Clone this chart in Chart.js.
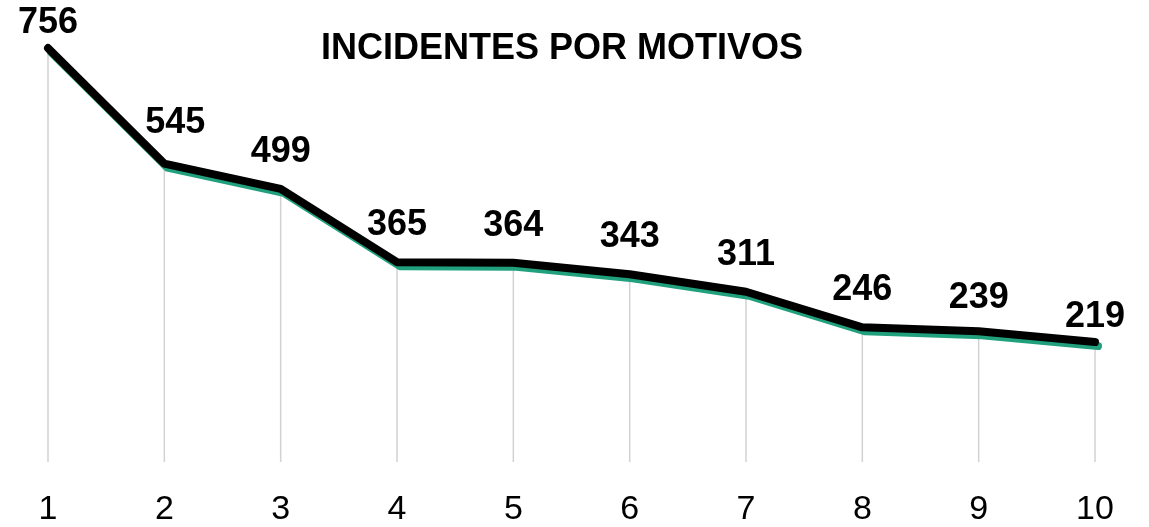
<!DOCTYPE html>
<html>
<head>
<meta charset="utf-8">
<title>Incidentes por motivos</title>
<script src="https://cdn.jsdelivr.net/npm/chart.js@4.4.1/dist/chart.umd.min.js"></script>
<style>
  html, body { margin: 0; padding: 0; background: #fff; }
  #chart { display: block; }
</style>
</head>
<body>
<canvas id="chart" width="1149" height="527"></canvas>
<script>
const categories = ['1', '2', '3', '4', '5', '6', '7', '8', '9', '10'];
const incidentes = [756, 545, 499, 365, 364, 343, 311, 246, 239, 219];
const chartTitle = 'INCIDENTES POR MOTIVOS';

const FONT = "'Liberation Sans', Arial, sans-serif";
const SHADOW_GREEN = '#21a07d';

// small per-label tweaks so the labels don't sit on the line [dx, dy]
const labelNudge = [[0, 0], [11, -4], [0, 0], [0, 0], [0, 0], [0, 0], [0, 0], [0, 0], [0, 4], [0, 12]];

// thin grey lines dropping from each point to the bottom of the plot
const dropLines = {
  id: 'dropLines',
  beforeDatasetsDraw(chart) {
    const { ctx, chartArea } = chart;
    const meta = chart.getDatasetMeta(0);
    ctx.save();
    ctx.strokeStyle = '#d2d2d2';
    ctx.lineWidth = 1.5;
    meta.data.forEach(pt => {
      ctx.beginPath();
      ctx.moveTo(pt.x, pt.y);
      ctx.lineTo(pt.x, chartArea.bottom);
      ctx.stroke();
    });
    ctx.restore();
  }
};

// hard green shadow under the black line
const lineShadow = {
  id: 'lineShadow',
  beforeDatasetDraw(chart, args) {
    if (args.index !== 0) return;
    const ctx = chart.ctx;
    ctx.save();
    ctx.shadowColor = SHADOW_GREEN;
    ctx.shadowOffsetX = 3;
    ctx.shadowOffsetY = 4;
    ctx.shadowBlur = 0;
  },
  afterDatasetDraw(chart, args) {
    if (args.index !== 0) return;
    chart.ctx.restore();
  }
};

const valueLabels = {
  id: 'valueLabels',
  afterDatasetsDraw(chart) {
    const { ctx } = chart;
    const meta = chart.getDatasetMeta(0);
    ctx.save();
    ctx.font = 'bold 36px ' + FONT;
    ctx.fillStyle = '#000';
    ctx.textAlign = 'center';
    ctx.textBaseline = 'alphabetic';
    meta.data.forEach((pt, i) => {
      const [dx, dy] = labelNudge[i];
      const y = Math.max(33, pt.y - 27 + dy);
      ctx.fillText(String(incidentes[i]), pt.x + dx, y);
    });
    ctx.restore();
  }
};

const titleText = {
  id: 'titleText',
  afterDraw(chart) {
    const { ctx } = chart;
    ctx.save();
    ctx.font = 'bold 36px ' + FONT;
    ctx.fillStyle = '#000';
    ctx.textAlign = 'center';
    ctx.textBaseline = 'middle';
    ctx.fillText(chartTitle, 562, 49);
    ctx.restore();
  }
};

new Chart(document.getElementById('chart'), {
  type: 'line',
  data: {
    labels: categories,
    datasets: [{
      label: 'Incidentes',
      data: incidentes,
      borderColor: '#000',
      borderWidth: 8,
      borderCapStyle: 'round',
      borderJoinStyle: 'round',
      pointRadius: 0,
      tension: 0,
      fill: false,
      clip: false
    }]
  },
  options: {
    responsive: false,
    animation: false,
    layout: { padding: { top: 24, left: 48, right: 54, bottom: 0 } },
    plugins: {
      legend: { display: false },
      tooltip: { enabled: false },
      title: { display: false }
    },
    scales: {
      x: {
        offset: false,
        grid: { display: false, drawTicks: false },
        border: { display: false },
        ticks: {
          color: '#000',
          font: { family: FONT, size: 34 },
          padding: 27,
          maxRotation: 0,
          autoSkip: false
        },
        afterFit(scale) {
          scale.height = 65;
        }
      },
      y: {
        display: false,
        min: 0,
        max: 800
      }
    }
  },
  plugins: [dropLines, lineShadow, valueLabels, titleText]
});
</script>
</body>
</html>
